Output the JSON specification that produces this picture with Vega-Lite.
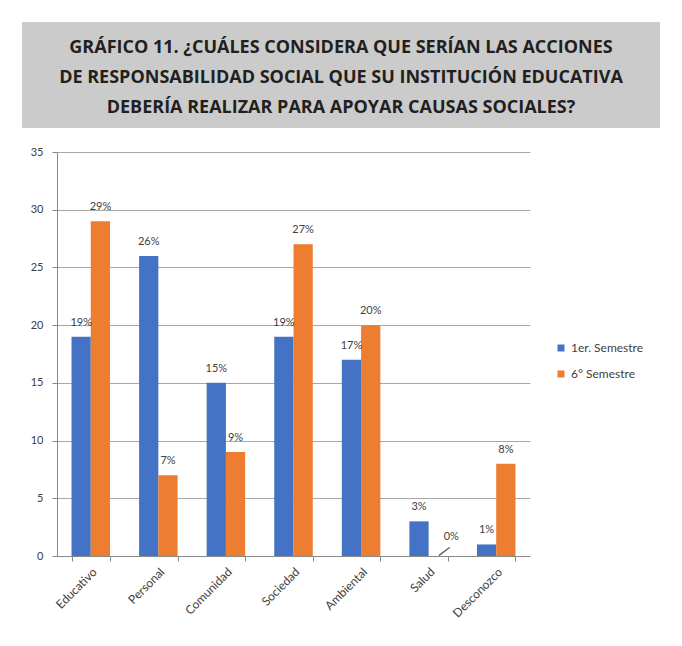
{
  "$schema": "https://vega.github.io/schema/vega-lite/v6.json",
  "background": "white",
  "padding": {"left": 22, "top": 22, "right": 0, "bottom": 0},
  "config": {"font": "Lato", "view": {"stroke": null}},
  "spacing": 18,
  "vconcat": [
    {
      "width": 638,
      "height": 106,
      "view": {"fill": "#cbcbcb", "stroke": null},
      "data": {"values": [
        {"n": 1, "t": "GRÁFICO 11. ¿CUÁLES CONSIDERA QUE SERÍAN LAS ACCIONES"},
        {"n": 2, "t": "DE RESPONSABILIDAD SOCIAL QUE SU INSTITUCIÓN EDUCATIVA"},
        {"n": 3, "t": "DEBERÍA REALIZAR PARA APOYAR CAUSAS SOCIALES?"}
      ]},
      "mark": {"type": "text", "font": "Open Sans", "fontWeight": "bold", "fontSize": 18, "color": "#231f20", "dy": 3},
      "encoding": {
        "y": {"field": "n", "type": "ordinal", "axis": null, "scale": {"type": "point", "padding": 0.75}},
        "text": {"field": "t"}
      }
    },
    {
      "spacing": 0,
      "hconcat": [
        {
          "width": 1,
          "height": 404,
          "data": {"values": []},
          "mark": {"type": "rect"}
        },
        {
          "width": 473,
          "height": 404,
          "data": {"values": [
            {"cat": "Educativo", "serie": "1er. Semestre", "v": 19, "lab": "19%"},
            {"cat": "Educativo", "serie": "6° Semestre", "v": 29, "lab": "29%"},
            {"cat": "Personal", "serie": "1er. Semestre", "v": 26, "lab": "26%"},
            {"cat": "Personal", "serie": "6° Semestre", "v": 7, "lab": "7%"},
            {"cat": "Comunidad", "serie": "1er. Semestre", "v": 15, "lab": "15%"},
            {"cat": "Comunidad", "serie": "6° Semestre", "v": 9, "lab": "9%"},
            {"cat": "Sociedad", "serie": "1er. Semestre", "v": 19, "lab": "19%"},
            {"cat": "Sociedad", "serie": "6° Semestre", "v": 27, "lab": "27%"},
            {"cat": "Ambiental", "serie": "1er. Semestre", "v": 17, "lab": "17%"},
            {"cat": "Ambiental", "serie": "6° Semestre", "v": 20, "lab": "20%"},
            {"cat": "Salud", "serie": "1er. Semestre", "v": 3, "lab": "3%"},
            {"cat": "Salud", "serie": "6° Semestre", "v": 0, "lab": "0%"},
            {"cat": "Desconozco", "serie": "1er. Semestre", "v": 1, "lab": "1%"},
            {"cat": "Desconozco", "serie": "6° Semestre", "v": 8, "lab": "8%"}
          ]},
          "encoding": {
            "x": {
              "field": "cat", "type": "nominal",
              "sort": ["Educativo", "Personal", "Comunidad", "Sociedad", "Ambiental", "Salud", "Desconozco"],
              "scale": {"paddingInner": 0.43, "paddingOuter": 0.215},
              "axis": {"title": null, "labelAngle": -45, "labelFontSize": 12, "labelColor": "#404040", "domainColor": "#888888", "tickColor": "#888888", "tickBand": "extent", "tickSize": 5, "labelPadding": 5, "grid": false}
            },
            "xOffset": {"field": "serie", "type": "nominal", "sort": ["1er. Semestre", "6° Semestre"]},
            "y": {
              "field": "v", "type": "quantitative",
              "scale": {"domain": [0, 35]},
              "axis": {"title": null, "values": [0, 5, 10, 15, 20, 25, 30, 35], "labelFontSize": 11, "labelColor": "#404040", "domainColor": "#888888", "tickColor": "#888888", "tickSize": 5, "labelPadding": 9, "minExtent": 34, "gridColor": "#a8a8a8"}
            }
          },
          "layer": [
            {
              "mark": {"type": "bar"},
              "encoding": {
                "color": {
                  "field": "serie", "type": "nominal",
                  "sort": ["1er. Semestre", "6° Semestre"],
                  "scale": {"range": ["#4472C4", "#ED7D31"]},
                  "legend": {"title": null, "orient": "none", "legendX": 533, "legendY": 320, "symbolType": "square", "symbolSize": 49, "symbolStrokeWidth": 0, "labelFontSize": 12, "labelColor": "#404040", "rowPadding": 14}
                }
              }
            },
            {
              "transform": [{"filter": "datum.v > 0"}],
              "mark": {"type": "text", "fontSize": 11, "color": "#404040", "baseline": "middle", "dy": -14},
              "encoding": {"text": {"field": "lab"}}
            },
            {
              "transform": [{"filter": "datum.v == 0"}],
              "mark": {"type": "text", "fontSize": 11, "color": "#404040", "baseline": "middle", "dx": 13, "dy": -19},
              "encoding": {"text": {"field": "lab"}}
            },
            {
              "transform": [{"filter": "datum.v == 0"}],
              "mark": {"type": "text", "font": "DejaVu Sans", "fontSize": 15, "color": "#404040", "baseline": "middle", "align": "center", "angle": -37, "dx": 7.5, "dy": -1},
              "encoding": {"text": {"value": "—"}}
            }
          ]
        }
      ]
    }
  ]
}
